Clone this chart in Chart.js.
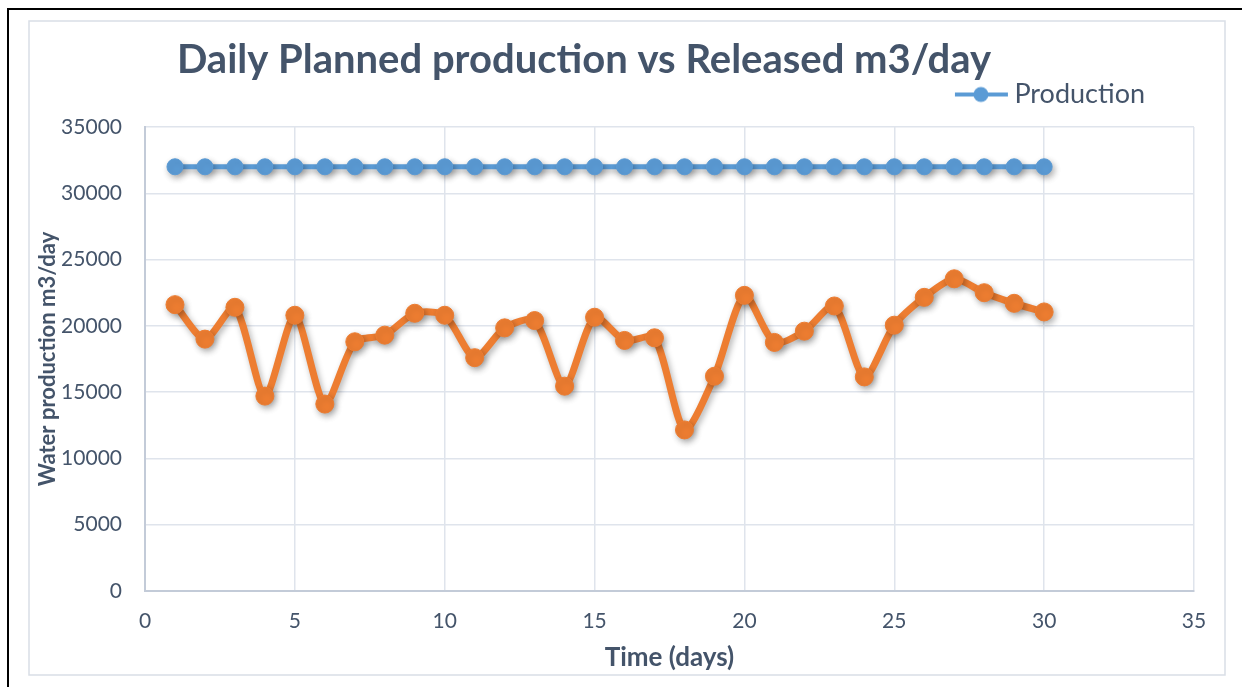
<!DOCTYPE html>
<html>
<head>
<meta charset="utf-8">
<title>Daily Planned production vs Released m3/day</title>
<script src="https://cdn.jsdelivr.net/npm/chart.js@4.4.1/dist/chart.umd.min.js"></script>
<style>
  html, body { margin: 0; padding: 0; background: #fff; }
  #wrap { position: relative; width: 1242px; height: 687px; }
</style>
</head>
<body>
<div id="wrap"><canvas id="prodChart" width="1242" height="687"></canvas></div>
<script>
// values
const days = [1, 2, 3, 4, 5, 6, 7, 8, 9, 10, 11, 12, 13, 14, 15, 16, 17, 18, 19, 20, 21, 22, 23, 24, 25, 26, 27, 28, 29, 30];
const planned = [32000, 32000, 32000, 32000, 32000, 32000, 32000, 32000, 32000, 32000,
                 32000, 32000, 32000, 32000, 32000, 32000, 32000, 32000, 32000, 32000,
                 32000, 32000, 32000, 32000, 32000, 32000, 32000, 32000, 32000, 32000];
const released = [21600, 19000, 21400, 14700, 20800, 14100, 18800, 19300, 20950, 20800,
                  17600, 19850, 20400, 15450, 20650, 18900, 19100, 12150, 16200, 22300,
                  18750, 19600, 21500, 16150, 20050, 22150, 23550, 22500, 21700, 21050];
const xTickValues = [0, 5, 10, 15, 20, 25, 30, 35];
const yTickValues = [0, 5000, 10000, 15000, 20000, 25000, 30000, 35000];

const chartTitle = 'Daily Planned production vs Released m3/day';
const textColor = '#44546a';
const blue = '#5b9bd5';
const orange = '#ed7d31';
const gridColor = '#dfe4ec';
const axisColor = '#c3cbd8';
const font = 'Lato';

// little line + marker image for the legend entry
function legendMarker() {
    const c = document.createElement('canvas');
    c.width = 76;
    c.height = 20;
    const g = c.getContext('2d');
    g.strokeStyle = blue;
    g.lineWidth = 4;
    g.beginPath();
    g.moveTo(22, 10);
    g.lineTo(75, 10);
    g.stroke();
    g.fillStyle = blue;
    g.beginPath();
    g.arc(48, 10, 7.5, 0, Math.PI * 2);
    g.fill();
    return c;
}

const framePlugin = {
    id: 'frame',
    beforeDraw(chart) {
        const ctx = chart.ctx;
        ctx.save();
        ctx.fillStyle = '#fff';
        ctx.fillRect(0, 0, chart.width, chart.height);
        ctx.strokeStyle = '#d9dee6';
        ctx.lineWidth = 1.5;
        ctx.strokeRect(29, 21, 1196, 654);
        ctx.strokeStyle = '#000';
        ctx.lineWidth = 2;
        ctx.beginPath();
        ctx.moveTo(8, chart.height);
        ctx.lineTo(8, 9);
        ctx.lineTo(chart.width, 9);
        ctx.stroke();
        ctx.restore();
    },
    afterDraw(chart) {
        const ctx = chart.ctx;
        ctx.save();
        ctx.font = 'bold 40px ' + font;
        ctx.fillStyle = textColor;
        ctx.textAlign = 'center';
        ctx.textBaseline = 'middle';
        ctx.fillText(chartTitle, 584, 60);
        ctx.restore();
    }
};

// soft drop shadow like the office chart
const shadowPlugin = {
    id: 'shadow',
    beforeDatasetsDraw(chart) {
        const ctx = chart.ctx;
        ctx.save();
        ctx.shadowColor = 'rgba(0, 0, 0, 0.3)';
        ctx.shadowBlur = 6;
        ctx.shadowOffsetX = 2;
        ctx.shadowOffsetY = 3;
    },
    afterDatasetsDraw(chart) {
        chart.ctx.restore();
    }
};

document.addEventListener('DOMContentLoaded', function () {
    const ctx = document.getElementById('prodChart');

    new Chart(ctx, {
        type: 'line',
        data: {
            datasets: [{
                label: 'Production',
                data: days.map((d, i) => ({ x: d, y: planned[i] })),
                borderColor: blue,
                backgroundColor: blue,
                borderWidth: 5,
                pointRadius: 8,
                pointBorderWidth: 1,
                pointBorderColor: blue,
                pointBackgroundColor: blue,
                tension: 0
            }, {
                label: 'Released',
                data: days.map((d, i) => ({ x: d, y: released[i] })),
                borderColor: orange,
                backgroundColor: orange,
                borderWidth: 7,
                pointRadius: 9,
                pointBorderWidth: 1,
                pointBorderColor: orange,
                pointBackgroundColor: orange,
                tension: 0.25
            }]
        },
        options: {
            responsive: false,
            animation: false,
            layout: {
                padding: { left: 0, right: 48, top: 32, bottom: 0 }
            },
            scales: {
                x: {
                    type: 'linear',
                    min: 0,
                    max: 35,
                    afterBuildTicks: s => { s.ticks = xTickValues.map(v => ({ value: v })); },
                    afterFit: s => { s.height = 96; },
                    grid: { color: gridColor, lineWidth: 1.5, drawTicks: false },
                    border: { color: axisColor, width: 2 },
                    ticks: {
                        color: textColor,
                        padding: 18,
                        font: { family: font, size: 21 }
                    },
                    title: {
                        display: true,
                        text: 'Time (days)',
                        color: textColor,
                        padding: { top: 0, bottom: 14 },
                        font: { family: font, size: 26, weight: 'bold' }
                    }
                },
                y: {
                    min: 0,
                    max: 35000,
                    afterBuildTicks: s => { s.ticks = yTickValues.map(v => ({ value: v })); },
                    afterFit: s => { s.width = 145; },
                    grid: { color: gridColor, lineWidth: 1.5, drawTicks: false },
                    border: { color: axisColor, width: 2 },
                    ticks: {
                        color: textColor,
                        padding: 23,
                        font: { family: font, size: 21 },
                        callback: v => String(v)
                    },
                    title: {
                        display: true,
                        text: 'Water production m3/day',
                        color: textColor,
                        padding: { top: 35, bottom: 0 },
                        font: { family: font, size: 22, weight: 'bold' }
                    }
                }
            },
            plugins: {
                title: { display: false },
                // empty box between legend and plot, keeps the gap under the legend
                subtitle: {
                    display: true,
                    text: '',
                    weight: 500,
                    padding: 0,
                    font: { size: 7.5, lineHeight: 1.2 }
                },
                tooltip: { enabled: false },
                legend: {
                    position: 'top',
                    align: 'end',
                    labels: {
                        color: textColor,
                        font: { family: font, size: 27 },
                        usePointStyle: true,
                        pointStyle: legendMarker(),
                        pointStyleWidth: 60,
                        padding: 49,
                        filter: item => item.datasetIndex === 0
                    }
                }
            }
        },
        plugins: [framePlugin, shadowPlugin]
    });
});
</script>
</body>
</html>
